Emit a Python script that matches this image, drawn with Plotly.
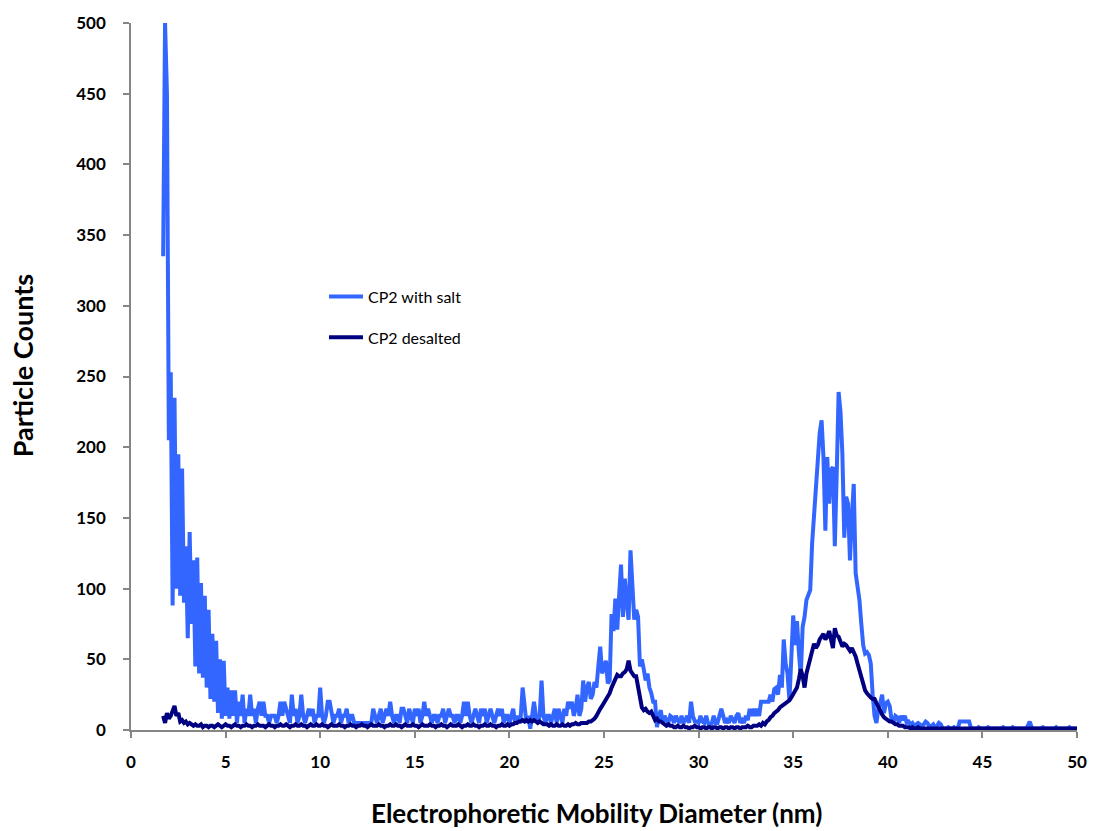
import numpy as np
import plotly.graph_objects as go

# Diameter grid (nm), 0.1 nm steps from 1.7 to 50.0
diameter_nm = np.round(np.arange(1.7, 50.05, 0.1), 1)

# Particle counts, CP2 with salt
counts_with_salt = [
    335, 500, 450,
    205, 253, 88, 235, 100, 195, 95, 185, 90, 130,
    65, 140, 75, 120, 45, 122, 40, 104, 37, 95,
    30, 85, 22, 68, 20, 63, 12, 50, 8, 49,
    10, 30, 8, 28, 10, 28, 5, 20, 10, 25,
    5, 15, 10, 25, 10, 15, 5, 15, 20, 10,
    20, 10, 10, 5, 10, 10, 10, 5, 10, 20,
    10, 20, 15, 10, 5, 25, 10, 15, 5, 10,
    25, 10, 5, 10, 15, 10, 15, 5, 10, 10,
    30, 10, 5, 10, 20, 20, 10, 5, 10, 10,
    15, 5, 10, 10, 15, 5, 10, 10, 5, 5,
    5, 5, 5, 5, 5, 5, 5, 5, 15, 10,
    5, 10, 15, 5, 10, 15, 10, 20, 10, 5,
    10, 10, 5, 15, 15, 10, 5, 15, 10, 5,
    15, 10, 15, 5, 10, 20, 10, 15, 10, 5,
    10, 10, 5, 10, 10, 15, 5, 10, 15, 10,
    10, 5, 10, 10, 5, 10, 20, 10, 20, 10,
    5, 10, 15, 10, 5, 15, 10, 15, 5, 10,
    15, 10, 5, 10, 15, 10, 15, 5, 10, 10,
    5, 10, 15, 5, 10, 5, 10, 30, 15, 5,
    10, 1, 10, 20, 10, 5, 10, 35, 10, 5,
    10, 10, 5, 10, 15, 5, 15, 10, 5, 15,
    10, 20, 15, 20, 10, 15, 25, 10, 15, 35,
    20, 30, 34, 22, 25, 34, 30, 45, 59, 40,
    45, 49, 33, 35, 82, 70, 93, 71, 95, 117,
    80, 107, 90, 78, 127, 95, 78, 85, 80, 45,
    50, 43, 35, 40, 30, 26, 20, 20, 2, 10,
    14, 5, 10, 7, 5, 10, 9, 5, 10, 7,
    5, 10, 5, 7, 10, 5, 20, 10, 6, 6,
    5, 10, 6, 5, 10, 5, 2, 5, 10, 5,
    5, 10, 15, 10, 5, 7, 5, 10, 7, 5,
    10, 12, 5, 7, 5, 10, 7, 15, 10, 15,
    10, 15, 10, 20, 20, 20, 20, 20, 25, 20,
    29, 30, 25, 39, 30, 64, 47, 40, 21, 50,
    81, 60, 77, 55, 38, 73, 80, 92, 95, 99,
    132, 151, 180, 199, 210, 219, 193, 141, 193, 160,
    184, 186, 130, 181, 239, 225, 195, 136, 165, 160,
    120, 150, 174, 111, 100, 92, 75, 60, 54, 55,
    53, 47, 25, 10, 5, 15, 19, 25, 12, 19,
    20, 17, 7, 5, 10, 9, 5, 10, 7, 10,
    5, 6, 4, 5, 3, 4, 5, 4, 2, 4,
    6, 5, 2, 3, 4, 1, 3, 5, 4, 1,
    1, 1, 2, 1, 1, 2, 1, 1, 6, 6,
    6, 6, 6, 6, 1, 1, 1, 1, 2, 1,
    1, 1, 1, 2, 1, 1, 1, 1, 1, 1,
    1, 2, 1, 1, 1, 1, 2, 1, 1, 1,
    1, 1, 1, 1, 3, 6, 2, 1, 1, 1,
    1, 1, 2, 1, 1, 1, 1, 1, 1, 2,
    1, 1, 1, 1, 1, 1, 2, 1, 1, 1,
    1,
]

# Particle counts, CP2 desalted
counts_desalted = [
    10, 5, 12,
    8, 10, 13, 17, 10, 12, 6, 7, 5, 6,
    4, 5, 4, 3, 4, 3, 3, 4, 2, 3,
    3, 2, 3, 3, 2, 3, 4, 3, 2, 3,
    4, 3, 3, 2, 3, 4, 3, 3, 2, 3,
    3, 4, 3, 3, 2, 3, 3, 4, 3, 3,
    3, 2, 3, 4, 3, 3, 2, 3, 3, 4,
    3, 3, 4, 3, 2, 3, 3, 4, 3, 3,
    4, 3, 3, 2, 3, 4, 3, 3, 4, 3,
    3, 4, 3, 3, 2, 3, 4, 3, 3, 3,
    4, 3, 3, 2, 3, 3, 4, 3, 3, 2,
    3, 3, 4, 3, 3, 2, 3, 4, 3, 3,
    3, 4, 3, 3, 2, 3, 3, 4, 3, 3,
    4, 3, 3, 2, 3, 4, 3, 3, 3, 4,
    3, 3, 2, 3, 4, 3, 3, 3, 4, 3,
    3, 2, 3, 3, 4, 3, 3, 2, 3, 4,
    3, 3, 3, 4, 3, 2, 3, 3, 4, 3,
    3, 4, 3, 3, 2, 3, 3, 4, 3, 3,
    4, 3, 3, 2, 3, 3, 4, 3, 3, 4,
    3, 4, 4, 5, 5, 6, 6, 7, 6, 7,
    6, 7, 6, 7, 6, 5, 6, 5, 4, 4,
    4, 3, 4, 3, 3, 4, 3, 3, 4, 3,
    3, 4, 3, 4, 4, 5, 4, 4, 5, 5,
    5, 5, 6, 6, 7, 8, 10, 13, 15, 17,
    19, 22, 24, 26, 30, 33, 37, 39, 38, 38,
    40, 41, 43, 49, 42, 40, 38, 38, 30, 21,
    16, 14, 15, 13, 12, 13, 9, 7, 8, 6,
    6, 5, 4, 3, 4, 3, 3, 2, 2, 3,
    2, 2, 3, 2, 2, 1, 2, 2, 3, 2,
    2, 1, 2, 2, 1, 2, 2, 1, 2, 2,
    1, 2, 2, 1, 2, 2, 1, 2, 2, 1,
    2, 2, 1, 2, 2, 2, 3, 2, 2, 3,
    3, 3, 4, 3, 5, 4, 6, 7, 9, 10,
    12, 13, 14, 16, 17, 18, 19, 20, 21, 23,
    25, 27, 30, 36, 43, 38, 30, 40, 45, 50,
    55, 61, 58, 60, 64, 66, 68, 64, 66, 70,
    62, 58, 72, 67, 66, 62, 59, 61, 60, 58,
    56, 58, 55, 52, 47, 42, 36, 31, 28, 26,
    24, 23, 22, 22, 19, 16, 14, 11, 9, 8,
    7, 6, 6, 5, 4, 4, 3, 3, 3, 2,
    2, 2, 1, 2, 1, 1, 2, 1, 1, 1,
    1, 1, 1, 1, 1, 1, 1, 1, 1, 1,
    1, 1, 1, 1, 1, 1, 1, 1, 1, 1,
    1, 1, 1, 1, 1, 1, 1, 1, 1, 1,
    1, 1, 1, 1, 1, 1, 1, 1, 1, 1,
    1, 1, 1, 1, 1, 1, 1, 1, 1, 1,
    1, 1, 1, 1, 1, 1, 1, 1, 1, 1,
    1, 1, 1, 1, 1, 1, 1, 1, 1, 1,
    1, 1, 1, 1, 1, 1, 1, 1, 1, 1,
    1,
]

series_names = ["CP2 with salt", "CP2 desalted"]
x_ticks = [0, 5, 10, 15, 20, 25, 30, 35, 40, 45, 50]
y_ticks = [0, 50, 100, 150, 200, 250, 300, 350, 400, 450, 500]

assert len(counts_with_salt) == len(diameter_nm)
assert len(counts_desalted) == len(diameter_nm)

FONT = "Lato"
AXIS_GREY = "#868686"

fig = go.Figure()
fig.add_trace(go.Scatter(
    x=diameter_nm, y=counts_with_salt, mode="lines", name=series_names[0],
    line=dict(color="#3366ff", width=4), legendgroup="a",
))
fig.add_trace(go.Scatter(
    x=diameter_nm, y=counts_desalted, mode="lines", name=series_names[1],
    line=dict(color="#000080", width=4), legendgroup="b",
))

fig.update_layout(
    width=1099, height=831,
    margin=dict(l=131, r=15, t=22, b=101),
    paper_bgcolor="white", plot_bgcolor="white",
    showlegend=True,
    legend=dict(
        x=0.204, y=0.637, xanchor="left", yanchor="top",
        bgcolor="rgba(0,0,0,0)", borderwidth=0,
        font=dict(family=FONT, size=16, color="black"),
        tracegroupgap=17, itemwidth=34,
    ),
)

fig.update_xaxes(
    range=[0, 50], tickvals=x_ticks, ticktext=[str(v) for v in x_ticks],
    showgrid=False, zeroline=False,
    showline=True, linecolor=AXIS_GREY, linewidth=1.5,
    ticks="outside", ticklen=6, tickcolor=AXIS_GREY, tickwidth=1.5,
    ticklabelstandoff=10,
    tickfont=dict(family=FONT, size=17, color="black", weight="bold"),
)
fig.update_yaxes(
    range=[0, 500], tickvals=y_ticks, ticktext=[str(v) for v in y_ticks],
    showgrid=False, zeroline=False,
    showline=True, linecolor=AXIS_GREY, linewidth=1.5,
    ticks="outside", ticklen=6, tickcolor=AXIS_GREY, tickwidth=1.5,
    ticklabelstandoff=14,
    tickfont=dict(family=FONT, size=17, color="black", weight="bold"),
)

# Axis titles
fig.add_annotation(
    text="Electrophoretic Mobility Diameter (nm)",
    xref="paper", yref="paper", x=0.492, y=-0.117,
    xanchor="center", yanchor="middle", showarrow=False,
    font=dict(family=FONT, size=26, color="black", weight="bold"),
)
fig.add_annotation(
    text="Particle Counts", textangle=-90,
    xref="paper", yref="paper", x=-0.1144, y=0.5155,
    xanchor="center", yanchor="middle", showarrow=False,
    font=dict(family=FONT, size=27, color="black", weight="bold"),
)

fig.write_html("out.html")
